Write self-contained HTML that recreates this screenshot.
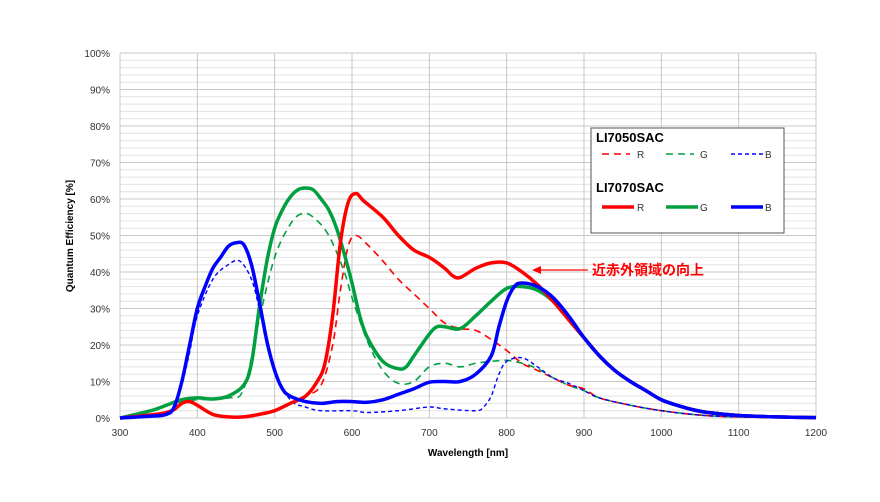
<!DOCTYPE html>
<html><head><meta charset="utf-8"><style>
body{margin:0;background:#fff;}
text{font-family:"Liberation Sans","Noto Sans CJK JP",sans-serif;}
</style></head><body>
<svg id="s" width="880" height="497" xmlns="http://www.w3.org/2000/svg">
<rect width="880" height="497" fill="#fff"/>
<g id="grid"></g>
<g id="curves"></g>
<rect x="591" y="128" width="193" height="105" fill="#fff" stroke="#555" stroke-width="1"/>
<text x="596" y="142" font-size="13" font-weight="bold">LI7050SAC</text>
<line x1="602" y1="154" x2="630" y2="154" stroke="#f00" stroke-width="1.6" stroke-dasharray="7,5"/>
<text x="637" y="158" font-size="10" fill="#333">R</text>
<line x1="666" y1="154" x2="694" y2="154" stroke="#00a040" stroke-width="1.6" stroke-dasharray="7,5"/>
<text x="700" y="158" font-size="10" fill="#333">G</text>
<line x1="731" y1="154" x2="763" y2="154" stroke="#00f" stroke-width="1.6" stroke-dasharray="4,3"/>
<text x="765" y="158" font-size="10" fill="#333">B</text>
<text x="596" y="192" font-size="13" font-weight="bold">LI7070SAC</text>
<line x1="602" y1="207" x2="634" y2="207" stroke="#f00" stroke-width="3.5"/>
<text x="637" y="211" font-size="10" fill="#333">R</text>
<line x1="666" y1="207" x2="698" y2="207" stroke="#00a040" stroke-width="3.5"/>
<text x="700" y="211" font-size="10" fill="#333">G</text>
<line x1="731" y1="207" x2="763" y2="207" stroke="#00f" stroke-width="3.5"/>
<text x="765" y="211" font-size="10" fill="#333">B</text>
<line x1="588" y1="270" x2="540" y2="270" stroke="#f00" stroke-width="1.2"/>
<polygon points="532,270 541,266 541,274" fill="#f00"/>
<text x="592" y="275" font-size="14" font-weight="bold" fill="#f00">近赤外領域の向上</text>
<text x="468" y="456" font-size="10" font-weight="bold" text-anchor="middle">Wavelength [nm]</text>
<text transform="translate(73,236) rotate(-90)" font-size="10" font-weight="bold" text-anchor="middle">Quantum Efficiency [%]</text>
</svg>
<script>
const NS="http://www.w3.org/2000/svg";
const X=n=>120+(n-300)*0.77333, Y=p=>418-p*3.65;
const g=document.getElementById('grid');
function el(t,a,p){const e=document.createElementNS(NS,t);for(const k in a)e.setAttribute(k,a[k]);(p||g).appendChild(e);return e;}
for(let p=0;p<=100;p+=2){const y=Y(p);el('line',{x1:120,x2:816,y1:y,y2:y,stroke:p%10?'#e2e2e2':'#c8c8c8','stroke-width':1});}
for(let n=300;n<=1200;n+=100){const x=X(n);el('line',{x1:x,x2:x,y1:Y(100),y2:418,stroke:'#c8c8c8','stroke-width':1});
 const t=el('text',{x:x,y:436,'font-size':10,'text-anchor':'middle',fill:'#333'});t.textContent=n;}
for(let p=0;p<=100;p+=10){const t=el('text',{x:110,y:Y(p)+4,'font-size':10,'text-anchor':'end',fill:'#333'});t.textContent=p+'%';}
const tail=[[920,17],[940,13],[960,10],[980,7.5],[1000,5],[1020,3.5],[1040,2.3],[1060,1.5],[1100,0.7],[1150,0.3],[1200,0.1]];
const tailD=[[920,5.5],[960,3.5],[1000,2],[1050,0.8],[1100,0.3],[1200,0]];
const S={
gd:[[300,0],[340,2],[360,3.5],[380,4.5],[400,5],[440,5.5],[460,8],[480,27],[500,44],[520,53],[535,56],[550,55],[570,50],[590,40],[600,33],[620,21],[640,13],[660,9.5],[680,10],[700,14],[720,15],[740,14],[760,15],[780,15.5],[800,15.8],[820,15],[840,13.5],[860,11],[880,9],[900,7.5],...tailD],
rd:[[300,0],[360,1.5],[380,4],[390,4.5],[400,3.5],[420,1],[440,0.3],[480,1],[500,2],[520,4],[540,6],[560,9],[575,20],[585,35],[595,47],[605,50],[620,47.5],[640,43],[660,38],[680,34],[700,30],[720,26],[740,24.5],[760,24],[780,21.5],[800,18.5],[820,15],[840,13],[860,11],[880,9],[900,8],...tailD],
bd:[[300,0],[340,0.5],[360,1],[370,3],[380,9],[390,18],[400,28],[420,38],[440,42],[455,43],[470,38],[480,30],[490,20],[500,13],[520,5],[540,3],[560,2],[600,2],[620,1.5],[660,2],[700,3],[720,2.5],[760,2],[770,3],[780,6],[790,12],[800,15.5],[820,16.5],[840,14],[860,11],[880,9.5],[900,7.5],...tailD],
g:[[300,0],[340,2],[360,3.5],[380,5],[400,5.5],[420,5.2],[440,6],[460,9],[470,15],[480,30],[490,43],[500,52],[510,57],[520,60.5],[530,62.5],[540,63],[550,62.5],[560,60],[570,57],[580,52],[590,45],[600,37],[610,28],[620,22],[640,15.5],[660,13.5],[670,14],[680,17],[700,23],[710,25],[720,25],[740,24.5],[760,28],[780,32],[800,35.5],[820,36],[840,35],[860,32],[880,27],[900,22],...tail],
r:[[300,0],[360,1.5],[380,4],[390,4.5],[400,3.5],[420,1],[440,0.3],[460,0.3],[480,1],[500,2],[520,4],[540,6],[555,10],[565,15],[575,28],[585,48],[595,59],[605,61.5],[615,59.5],[640,55],[660,50],[680,46],[700,44],[720,41],[730,39],[740,38.5],[760,41],[780,42.5],[800,42.5],[820,40],[840,36.5],[860,32],[880,27],[900,22],...tail],
b:[[300,0],[340,0.5],[360,1],[370,3],[380,10],[390,20],[400,30],[410,36],[420,41],[430,44],[440,47],[450,48],[460,47.5],[470,42],[480,32],[490,21],[500,13],[510,8],[520,6],[540,4.5],[560,4],[580,4.5],[600,4.5],[620,4.3],[640,5],[660,6.5],[680,8],[700,9.8],[720,10],[740,10],[760,12],[780,17],[790,25],[800,32],[810,36],[820,37],[840,36],[860,33],[880,28],[900,22],...tail]};
function path(d){const P=d.map(([n,p])=>[X(n),Y(p)]);let s='M'+P[0][0]+','+P[0][1];
for(let i=0;i<P.length-1;i++){const p0=P[i-1]||P[i],p1=P[i],p2=P[i+1],p3=P[i+2]||p2;
s+=` C${p1[0]+(p2[0]-p0[0])/6},${p1[1]+(p2[1]-p0[1])/6} ${p2[0]-(p3[0]-p1[0])/6},${p2[1]-(p3[1]-p1[1])/6} ${p2[0]},${p2[1]}`;}return s;}
const c=document.getElementById('curves');
const st={gd:['#00a040',1.6,'7,5'],rd:['#f00',1.6,'7,5'],bd:['#00f',1.4,'4,3'],g:['#00a040',3.5],r:['#f00',3.5],b:['#00f',3.5]};
for(const k of ['gd','rd','bd','g','r','b']){const a={d:path(S[k]),fill:'none',stroke:st[k][0],'stroke-width':st[k][1],'stroke-linejoin':'round'};if(st[k][2])a['stroke-dasharray']=st[k][2];el('path',a,c);}
</script>
</body></html>
